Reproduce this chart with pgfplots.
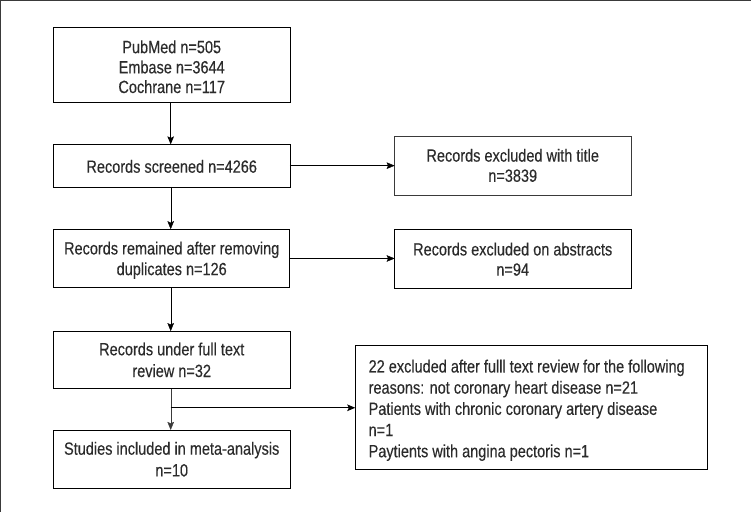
\documentclass[border=0pt]{standalone}
\usepackage{fontspec}
\setmainfont[FakeStretch=0.82,FakeBold=0.3]{Liberation Sans}
\usepackage{pgfplots}
\pgfplotsset{compat=1.18}
\usetikzlibrary{arrows.meta}
\definecolor{ln}{HTML}{3A3A3A}
\definecolor{tx}{HTML}{2B2B2B}
\newcommand{\T}[3]{\node[anchor=base,text=tx,inner sep=0pt,font=\fontsize{17.6}{20}\selectfont] at (axis cs:#1,#2) {#3};}
\newcommand{\LT}[3]{\node[anchor=base west,text=tx,inner sep=0pt,font=\fontsize{17.6}{20}\selectfont] at (axis cs:#1,#2) {#3};}
\tikzset{arr/.style={line cap=butt,-{Stealth[length=8bp,width=6.5bp,inset=1.5bp]}}}
\begin{document}
\begin{tikzpicture}
\begin{axis}[width=751bp,height=514bp,scale only axis,
  xmin=0,xmax=751,ymin=0,ymax=514,y dir=reverse,hide axis,clip=false,
  cycle list={{ln,solid,no markers,line width=1.1bp,line cap=rect,line join=miter}}]
% frame
\addplot coordinates {(751,7) (7,7) (7,514)};
% left column boxes
\addplot coordinates {(60,34) (294,34) (294,108) (60,108) (60,34)};
\addplot coordinates {(60,150) (294,150) (294,192) (60,192) (60,150)};
\addplot coordinates {(60,234) (294,234) (294,292) (60,292) (60,234)};
\addplot coordinates {(60,335) (294,335) (294,392) (60,392) (60,335)};
\addplot coordinates {(60,433) (294,433) (294,491) (60,491) (60,433)};
% right boxes
\addplot coordinates {(398,142) (632,142) (632,200) (398,200) (398,142)};
\addplot coordinates {(398,234) (632,234) (632,292) (398,292) (398,234)};
\addplot coordinates {(359,349) (708,349) (708,472) (359,472) (359,349)};
% arrows
\addplot+[arr] coordinates {(176,108) (176,150)};
\addplot+[arr] coordinates {(176,192) (176,234)};
\addplot+[arr] coordinates {(176,292) (176,335)};
\addplot+[arr] coordinates {(176,392) (176,433)};
\addplot+[arr] coordinates {(294,171) (398,171)};
\addplot+[arr] coordinates {(294,263) (398,263)};
\addplot+[arr] coordinates {(176,411) (359,411)};
% texts
\T{177}{59.5}{PubMed n=505}
\T{177}{79.5}{Embase n=3644}
\T{177}{99}{Cochrane n=117}
\T{177}{178}{Records screened n=4266}
\T{177}{259}{Records remained after removing}
\T{177}{279.5}{duplicates n=126}
\T{177}{359}{Records under full text}
\T{177}{380.5}{review n=32}
\T{177}{457.5}{Studies included in meta-analysis}
\T{177}{479}{n=10}
\T{515}{167}{Records excluded with title}
\T{515}{187}{n=3839}
\T{515}{260}{Records excluded on abstracts}
\T{515}{280}{n=94}
\LT{372}{376}{22 excluded after fulll text review for the following}
\LT{372}{397}{reasons: not coronary heart disease n=21}
\LT{372}{418}{Patients with chronic coronary artery disease}
\LT{372}{439}{n=1}
\LT{372}{460}{Paytients with angina pectoris n=1}
\end{axis}
\end{tikzpicture}
\end{document}
